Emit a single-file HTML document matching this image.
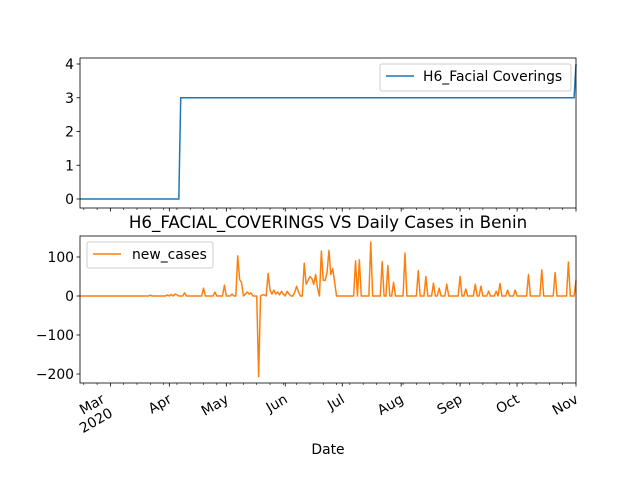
<!DOCTYPE html>
<html><head><meta charset="utf-8"><style>
body{margin:0;background:#fff}
svg{font-family:"DejaVu Sans","Liberation Sans",sans-serif}
</style></head><body>
<svg id="chart" width="640" height="480" viewBox="0 0 640 480">
<rect width="640" height="480" fill="#fff"/>
<g id="topchart"></g>
<g id="bottomchart"></g>
</svg>
<script>
// day index 0 = 2020-02-14
const monthLabels = ["Mar","Apr","May","Jun","Jul","Aug","Sep","Oct","Nov"];
const monthIdx = [16,47,77,108,138,169,200,230,261];
const h6Idx = [0,52,53,260,261];
const h6Vals = [0,0,3,3,4];
const topTicks = [0,1,2,3,4];
const bottomTicks = [100,0,-100,-200];
const newCases = [
0,0,0,0,0,0,0,0,0,0,
0,0,0,0,0,0,0,0,0,0,
0,0,0,0,0,0,0,0,0,0,
0,0,0,0,0,0,0,2,0,0,
0,0,0,0,0,0,3,0,4,0,
5,3,0,0,0,8,0,0,0,0,
0,0,0,0,0,20,0,0,0,0,
0,10,0,0,0,0,28,0,0,0,
5,0,0,103,42,35,0,5,10,5,
8,0,0,0,-207,0,3,3,0,58,
15,5,15,5,10,3,12,5,0,12,
5,0,0,10,25,10,0,0,84,30,
40,50,45,30,55,20,0,115,40,40,
60,117,55,70,35,0,0,0,0,0,
0,0,0,0,0,90,0,93,0,0,
0,0,0,138,0,0,0,0,0,88,
0,0,78,0,0,35,0,0,0,0,
0,110,0,0,0,0,0,0,65,0,
0,0,50,0,0,0,33,0,0,20,
0,0,0,30,0,0,0,0,0,0,
50,0,0,18,0,0,0,0,30,0,
0,25,0,0,0,12,0,0,0,12,
0,32,0,0,0,15,0,0,0,15,
0,0,0,0,0,0,55,0,0,0,
0,0,0,67,0,0,0,0,0,0,
60,0,0,0,0,0,0,87,0,0,
0,40];

const NS="http://www.w3.org/2000/svg";
const X0=80,X1=576,N=261;
const FS=13.9;
const x=i=>X0+i*(X1-X0)/N;
const yTop=v=>199-v*33.75;
const yBot=v=>296-v*0.39;
function mk(tag,attrs,parent){const e=document.createElementNS(NS,tag);for(const k in attrs)e.setAttribute(k,attrs[k]);parent.appendChild(e);return e;}
const gTop=document.getElementById('topchart'),gBot=document.getElementById('bottomchart');

function frame(g,y0,y1,name){
  const r=mk('rect',{x:X0,y:y0,width:X1-X0,height:y1-y0,fill:'none',stroke:'#000','stroke-width':0.8},g);
  
  
}
function xticks(g,yb,labels){
  for(let i=2;i<=N;i+=7){ if(monthIdx.includes(i))continue;
    mk('line',{x1:x(i),x2:x(i),y1:yb,y2:yb+2,stroke:'#000','stroke-width':0.6},g);}
  monthIdx.forEach((m,k)=>{
    mk('line',{x1:x(m),x2:x(m),y1:yb,y2:yb+3.5,stroke:'#000','stroke-width':0.8},g);
    if(labels){
      const shift=k===0?-13:-5;
      const t=mk('text',{transform:`translate(${x(m)+2+shift},${yb+8}) rotate(-30)`,'text-anchor':'end','font-size':FS},g);
      
      
      const s1=mk('tspan',{x:0,dy:'0.9em'},t);s1.textContent=monthLabels[k];
      if(k===0){const s2=mk('tspan',{x:0,dy:'1.15em'},t);s2.textContent='2020';}
    }
  });
}
function yticks(g,ticks,yf){
  ticks.forEach(v=>{
    mk('line',{x1:X0-3.5,x2:X0,y1:yf(v),y2:yf(v),stroke:'#000','stroke-width':0.8},g);
    const t=mk('text',{x:X0-6,y:yf(v)+5,'text-anchor':'end','font-size':FS},g);
    
    
    t.textContent=String(v).replace('-','\u2212');
  });
}
// top chart
yticks(gTop,topTicks,yTop);
xticks(gTop,208,false);
const p1=mk('polyline',{points:h6Idx.map((d,i)=>x(d)+','+yTop(h6Vals[i])).join(' '),fill:'none',stroke:'#1f77b4','stroke-width':1.5},gTop);


frame(gTop,58,208,'top-axes');
const lg1=mk('g',{},gTop);


mk('rect',{x:380,y:64,width:191,height:27,rx:2,fill:'#fff',stroke:'#ccc'},lg1);
mk('line',{x1:386,x2:414,y1:76,y2:76,stroke:'#1f77b4','stroke-width':1.5},lg1);
const lt1=mk('text',{x:423,y:81,'font-size':FS},lg1);lt1.textContent='H6_Facial Coverings';

// bottom chart
yticks(gBot,bottomTicks,yBot);
xticks(gBot,383,true);
const p2=mk('polyline',{points:newCases.map((v,i)=>x(i)+','+yBot(v)).join(' '),fill:'none',stroke:'#ff7f0e','stroke-width':1.5,'stroke-linejoin':'round'},gBot);


frame(gBot,236,383,'bottom-axes');
const lg2=mk('g',{},gBot);


mk('rect',{x:87,y:242,width:126,height:26,rx:2,fill:'#fff',stroke:'#ccc'},lg2);
mk('line',{x1:93,x2:121,y1:254,y2:254,stroke:'#ff7f0e','stroke-width':1.5},lg2);
const lt2=mk('text',{x:132,y:259,'font-size':FS},lg2);lt2.textContent='new_cases';

const title=mk('text',{x:328,y:228,'text-anchor':'middle','font-size':16.7},gBot);


title.textContent='H6_FACIAL_COVERINGS VS Daily Cases in Benin';
const xl=mk('text',{x:328,y:454,'text-anchor':'middle','font-size':FS},gBot);


xl.textContent='Date';
</script>
</body></html>
